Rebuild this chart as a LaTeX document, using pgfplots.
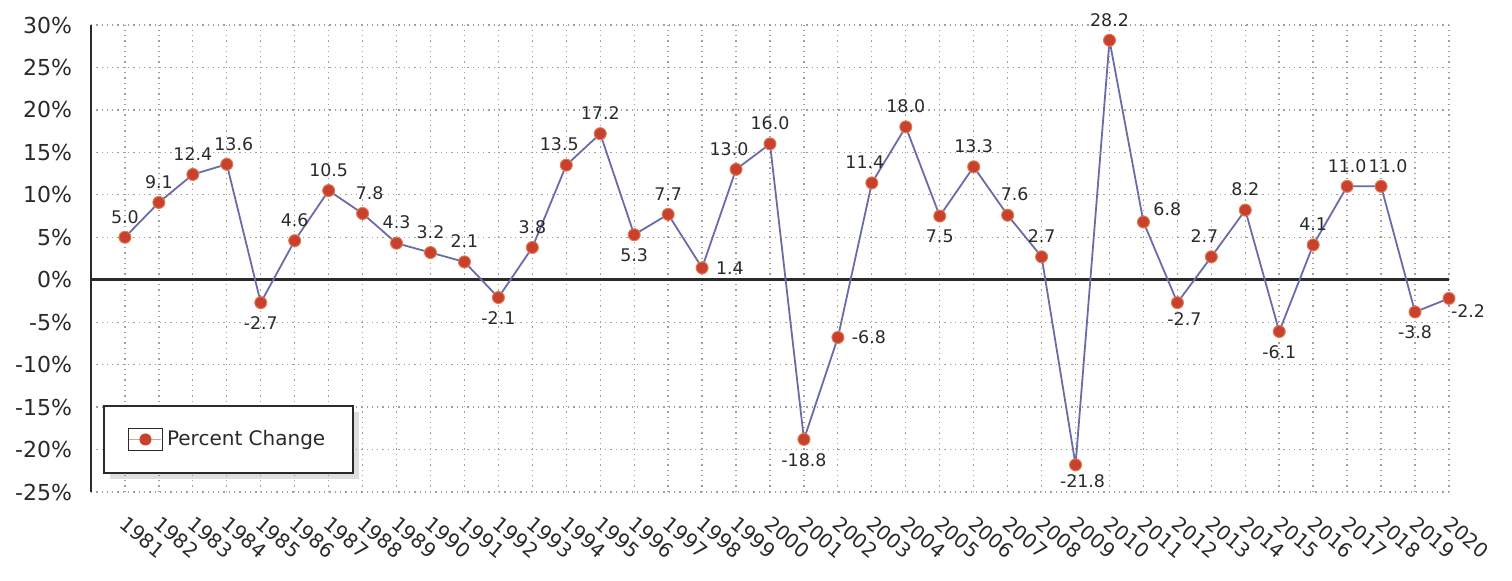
\documentclass[border=0pt]{standalone}
\usepackage{pgfplots}
\pgfplotsset{compat=1.18}
\usepackage{fontspec}
\setmainfont{DejaVu Sans}
\usetikzlibrary{shadows}
\definecolor{linecol}{HTML}{6A6CA8}
\definecolor{markcol}{HTML}{C8402E}
\definecolor{markrim}{HTML}{E07A50}
\definecolor{legline}{HTML}{E0A090}
\definecolor{txtcol}{HTML}{2A2A2A}
\pgfplotsset{
  lbl/.style={draw=none, mark=none, forget plot, nodes near coords,
    every node near coord/.append style={anchor=#1, inner sep=7pt, outer sep=0pt,
      font=\fontsize{8.7}{10}\selectfont, text=txtcol,
      /pgf/number format/fixed, /pgf/number format/fixed zerofill,
      /pgf/number format/precision=1, /pgf/number format/assume math mode=true}},
}
\begin{document}
\begin{tikzpicture}
\begin{axis}[
  at={(0,0)}, anchor=south west,
  scale only axis, width=679pt, height=233.5pt,
  xmin=1980, xmax=2020, ymin=-25, ymax=30,
  xtick={1981,...,2020},
  ytick={-25,-20,...,30},
  axis x line*=bottom,
  axis y line*=left,
  x axis line style={draw=none, -},
  y axis line style={draw=txtcol, line width=1.2pt, -},
  tick style={draw=none},
  grid=major,
  major grid style={gray!75, line width=0.65pt, dotted},
  yticklabel={\pgfmathprintnumber{\tick}\%},
  /pgf/number format/assume math mode=true,
  /pgf/number format/set thousands separator={},
  yticklabel style={font=\fontsize{11}{12}\selectfont, text=txtcol, xshift=-6pt},
  xticklabel style={font=\fontsize{10}{11}\selectfont, text=txtcol, rotate=-40,
    anchor=north west, inner sep=0pt, xshift=8.4pt, yshift=-7.7pt},
  legend style={at={(axis cs:1980.35,-14.8)}, anchor=north west,
    draw=txtcol, line width=1pt, fill=white,
    drop shadow={shadow xshift=3pt, shadow yshift=-3pt, opacity=0.25},
    inner xsep=12pt, inner ysep=10pt,
    font=\fontsize{10}{12}\selectfont, text=txtcol,
    cells={anchor=west}},
  legend image code/.code={
    \pgfsetlinewidth{0.6pt}\pgfsetstrokecolor{txtcol}\pgfsetfillcolor{white}
    \pgfpathrectangle{\pgfpoint{0pt}{-5.5pt}}{\pgfpoint{17pt}{11pt}}\pgfusepath{fill,stroke}
    \pgfsetstrokecolor{legline}
    \pgfpathmoveto{\pgfpoint{0.5pt}{0pt}}\pgfpathlineto{\pgfpoint{16.5pt}{0pt}}\pgfusepath{stroke}
    \pgfsetfillcolor{markcol}
    \pgfpathcircle{\pgfpoint{8.5pt}{0pt}}{3pt}\pgfusepath{fill}
  },
  clip=false,
]
\addplot[txtcol, line width=1.3pt, forget plot] coordinates {(1980,0) (2020,0)};
\addplot[
  color=linecol, line width=0.9pt,
  mark=*, mark size=3pt,
  mark options={fill=markcol, draw=markrim, line width=0.5pt},
] table {
1981 5.0
1982 9.1
1983 12.4
1984 13.6
1985 -2.7
1986 4.6
1987 10.5
1988 7.8
1989 4.3
1990 3.2
1991 2.1
1992 -2.1
1993 3.8
1994 13.5
1995 17.2
1996 5.3
1997 7.7
1998 1.4
1999 13.0
2000 16.0
2001 -18.8
2002 -6.8
2003 11.4
2004 18.0
2005 7.5
2006 13.3
2007 7.6
2008 2.7
2009 -21.8
2010 28.2
2011 6.8
2012 -2.7
2013 2.7
2014 8.2
2015 -6.1
2016 4.1
2017 11.0
2018 11.0
2019 -3.8
2020 -2.2
};
\addlegendentry{Percent Change}
% labels above
\addplot[lbl=south] coordinates {(1981,5.0) (1982,9.1) (1983,12.4) (1986,4.6) (1987,10.5) (1989,4.3) (1990,3.2) (1991,2.1) (1993,3.8) (1995,17.2) (1997,7.7) (2000,16.0) (2004,18.0) (2006,13.3) (2008,2.7) (2010,28.2) (2014,8.2) (2016,4.1) (2017,11.0)};
\addplot[lbl=south, every node near coord/.append style={xshift=3.5pt}] coordinates {(1984,13.6) (1988,7.8) (2007,7.6) (2018,11.0)};
\addplot[lbl=south, every node near coord/.append style={xshift=-3.5pt}] coordinates {(1994,13.5) (1999,13.0) (2003,11.4) (2013,2.7)};
% labels below
\addplot[lbl=north] coordinates {(1985,-2.7) (1992,-2.1) (1996,5.3) (2001,-18.8) (2005,7.5) (2015,-6.1) (2019,-3.8)};
\addplot[lbl=north, every node near coord/.append style={xshift=3.5pt, yshift=2pt}] coordinates {(2009,-21.8) (2012,-2.7)};
% labels right
\addplot[lbl=west] coordinates {(1998,1.4) (2002,-6.8)};
\addplot[lbl=south west, every node near coord/.append style={inner sep=5pt, yshift=-2pt}] coordinates {(2011,6.8)};
\addplot[lbl=north west, every node near coord/.append style={inner sep=3pt, xshift=-2pt}] coordinates {(2020,-2.2)};
\end{axis}
\pgfresetboundingbox
\path (-45.5pt,-44pt) rectangle (710.5pt,246pt);
\end{tikzpicture}
\end{document}
